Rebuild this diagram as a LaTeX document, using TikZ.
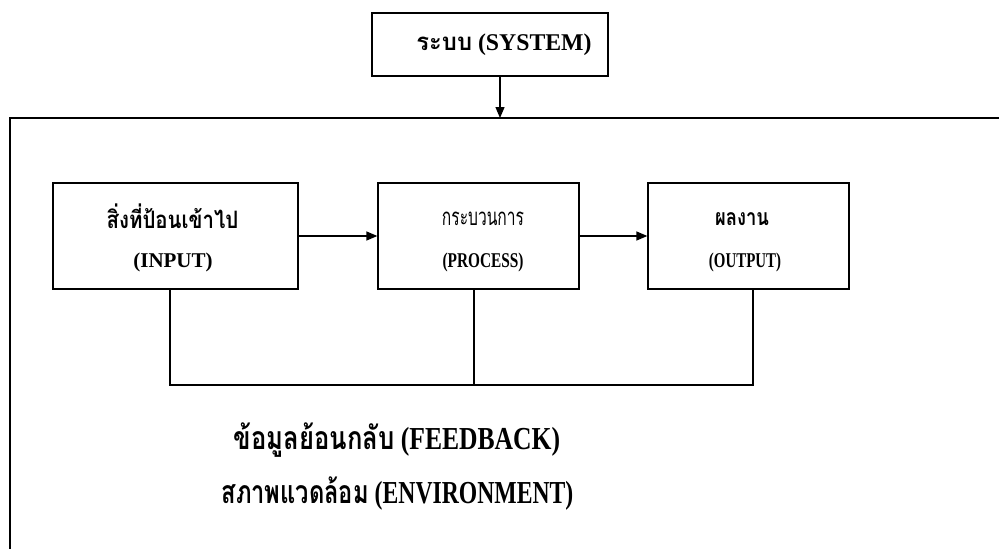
\documentclass[tikz,border=0pt]{standalone}
\usepackage{fontspec}
\usepackage{graphicx}
\setmainfont{Liberation Serif}
\newfontfamily\thai[Script=Thai]{Loma}
\usetikzlibrary{arrows.meta}

\tikzset{
  frame/.style={draw=black, line width=1.3pt},
  stage/.style={frame, inner sep=0pt},
  flow/.style={line width=1.3pt, -{Triangle[length=11pt,width=9pt]}},
  link/.style={line width=1.3pt},
  lbl/.style={inner sep=0pt, font=\bfseries},
}

\begin{document}
\begin{tikzpicture}[x=1pt, y=-1pt]
  \useasboundingbox (0,0) rectangle (999,549);

  % system box and the environment frame below it
  \node[stage, minimum width=236pt, minimum height=63pt] (system) at (490,44.5) {};
  \node[lbl] (systemlbl) at (504,45) {\fontsize{24}{26}\selectfont\scalebox{0.99}[1]{{\thai ระบบ} (SYSTEM)}};
  \coordinate (envtop) at (500,118);
  \draw[link] (10,560) -- (10,118) -- (1010,118);
  \draw[flow] (system.south -| envtop) -- (envtop);

  % input / process / output
  \node[stage, minimum width=245pt, minimum height=106pt] (input) at (175.5,236) {};
  \node[stage, minimum width=201pt, minimum height=106pt] (process) at (478.5,236) {};
  \node[stage, minimum width=201pt, minimum height=106pt] (output) at (748.5,236) {};

  \node[lbl] (inputth) at (172.5,216) {\fontsize{24}{26}\selectfont\scalebox{0.85}[1]{\thai สิ่งที่ป้อนเข้าไป}};
  \node[lbl] (inputen) at (173,262) {\fontsize{21}{23}\selectfont (INPUT)};
  \node[lbl] (processth) at (483,219) {\fontsize{24}{26}\selectfont\scalebox{0.65}[1]{\thai\mdseries กระบวนการ}};
  \node[lbl] (processen) at (483,262) {\fontsize{21}{23}\selectfont\scalebox{0.73}[1]{(PROCESS)}};
  \node[lbl] (outputth) at (742,219) {\fontsize{23}{25}\selectfont\scalebox{0.8}[1]{\thai ผลงาน}};
  \node[lbl] (outputen) at (745,262) {\fontsize{21}{23}\selectfont\scalebox{0.71}[1]{(OUTPUT)}};

  \draw[flow] (input.east) -- (process.west);
  \draw[flow] (process.east) -- (output.west);

  % feedback loop under the three stages
  \coordinate (fbL) at (170,385);
  \coordinate (fbM) at (474,385);
  \coordinate (fbR) at (753,385);
  \draw[link] (input.south -| fbL) -- (fbL) -- (fbR) -- (output.south -| fbR);
  \draw[link] (process.south -| fbM) -- (fbM);

  % captions
  \node[lbl] (feedback) at (397,440) {\fontsize{32}{34}\selectfont\scalebox{0.8}[1]{{\thai ข้อมูลย้อนกลับ} (FEEDBACK)}};
  \node[lbl] (environment) at (397.5,494) {\fontsize{32}{34}\selectfont\scalebox{0.74}[1]{{\thai สภาพแวดล้อม} (ENVIRONMENT)}};
\end{tikzpicture}
\end{document}
